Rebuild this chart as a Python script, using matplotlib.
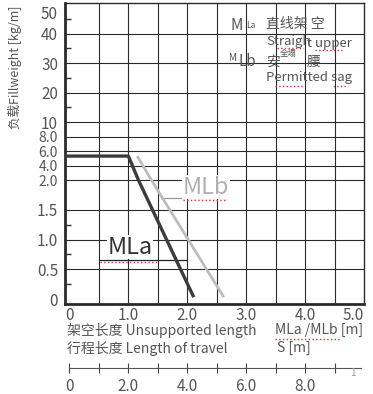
import numpy as np
import matplotlib
matplotlib.use("Agg")
import matplotlib.pyplot as plt
import matplotlib.transforms as mtransforms

plt.rcParams['font.family'] = ['Noto Sans CJK SC', 'DejaVu Sans']
plt.rcParams['font.weight'] = 'light'

# curves: unsupported length [m] vs fill weight [kg/m]
mla_x = [-0.076, 1.0, 1.17, 2.11]
mla_y = [5.3, 5.3, 2.0, 0.03]
mlb_x = [1.15, 1.39, 2.62]
mlb_y = [5.3, 2.0, 0.03]

y_ticks = [0, 0.5, 1.0, 1.5, 2.0, 4.0, 6.0, 8.0, 10, 20, 30, 40, 50]
y_labels = ['0', '0.5', '1.0', '1.5', '2.0', '4.0', '6.0', '8.0', '10', '20', '30', '40', '50']
y_minor = [0.25, 0.75, 1.25, 15, 25, 35, 45]
x_ticks = [0, 1, 2, 3, 4, 5]
x_labels = ['0', '1.0', '2.0', '3.0', '4.0', '5.0']
s_ticks = list(range(10))
s_labels = ['0', '', '2.0', '', '4.0', '', '6.0', '', '8.0', '']

# piecewise-linear value axis of the original sheet
yv = [-1, 0, 2, 10, 50, 100]
yp = [-59.5, 0, 119, 177, 295, 442.5]


def fwd(v):
    return np.interp(v, yv, yp)


def inv(p):
    return np.interp(p, yp, yv)


W, H = 373, 394


def fx(x):
    return x / W


def fy(y):
    return 1 - y / H


fig = plt.figure(figsize=(W / 100, H / 100), dpi=100)
ax = fig.add_axes([fx(65), fy(304), fx(364) - fx(65), fy(3) - fy(304)])
ax.set_yscale('function', functions=(fwd, inv))
ax.set_xlim(-0.076, 5.0)
ax.set_ylim(-0.084, 50.34)

grid_c = '#2a2a2a'
for v in [0.5, 1.0, 1.5, 2.0, 4.0, 6.0, 8.0, 10, 20, 30, 40]:
    ax.axhline(v, color=grid_c, lw=0.8, zorder=1)
for v in np.arange(0.5, 5.0, 0.5):
    ax.axvline(v, color=grid_c, lw=0.8, zorder=1)

ax.plot(mla_x, mla_y, color='#3c3c3c', lw=2.4, zorder=3, solid_capstyle='butt')
ax.plot(mlb_x, mlb_y, color='#bdbdbd', lw=2.0, zorder=3, solid_capstyle='butt')

# labels on the curves with their leader lines
ax.plot([0.52, 1.98], [0.655, 0.655], color='#222', lw=0.9, zorder=2)
ax.plot([1.56, 2.68], [1.70, 1.70], color='#999', lw=0.9, zorder=2)
ax.text(1.03, 0.87, 'MLa', fontsize=17, color='#333', ha='center', va='center',
        zorder=4, bbox=dict(facecolor='white', edgecolor='none', pad=0.5))
ax.text(2.32, 1.88, 'MLb', fontsize=17, color='#b0b0b0', ha='center', va='center',
        zorder=4, bbox=dict(facecolor='white', edgecolor='none', pad=0.5))
ax.plot([0.52, 1.48], [0.62, 0.62], color='#d33', lw=1.0, ls=':', zorder=4)
ax.plot([1.92, 2.68], [1.66, 1.66], color='#d33', lw=1.0, ls=':', zorder=4)

for side, w in [('left', 2.0), ('bottom', 2.0), ('top', 1.0), ('right', 1.0)]:
    ax.spines[side].set_linewidth(w)
    ax.spines[side].set_color('#2a2a2a')

ax.set_yticks(y_ticks)
ax.set_yticklabels(y_labels)
ax.set_yticks(y_minor, minor=True)
ax.set_xticks(x_ticks)
ax.set_xticklabels(x_labels)
ax.tick_params(axis='both', which='major', length=0, colors='#555', labelsize=11)
ax.tick_params(axis='y', which='major', pad=5)
ax.tick_params(axis='x', which='major', pad=2)
ax.tick_params(axis='y', which='minor', direction='in', length=4, width=1, color='#333')
for lab in ax.get_yticklabels():
    if lab.get_text() in ('2.0', '4.0', '6.0', '8.0'):
        lab.set_fontsize(10)
top_lab = ax.get_yticklabels()[-1]
top_lab.set_transform(top_lab.get_transform() +
                      mtransforms.ScaledTranslation(0, -8 / 100, fig.dpi_scale_trans))
ax.get_xticklabels()[-1].set_horizontalalignment('right')

# travel-length scale underneath
ax2 = fig.add_axes([fx(65), fy(368), fx(364) - fx(65), 0.001])
ax2.set_xlim(-0.152, 10.0)
for side in ['left', 'right', 'top']:
    ax2.spines[side].set_visible(False)
ax2.spines['bottom'].set_bounds(0, 9.9)
ax2.spines['bottom'].set_color('#555')
ax2.set_yticks([])
ax2.set_xticks(s_ticks)
ax2.set_xticklabels(s_labels)
ax2.tick_params(axis='x', direction='inout', length=7, color='#444', colors='#555',
                labelsize=11, pad=4)
ax2.text(9.62, -0.5, '1', fontsize=7, color='#999', ha='center', va='top',
         transform=ax2.get_xaxis_transform())

txt = '#555'
fig.text(fx(15), fy(67), '负载Fillweight [kg/m]', rotation=90, ha='center', va='center',
         fontsize=9, color=txt)
fig.text(fx(67), fy(330), '架空长度 Unsupported length', ha='left', va='center',
         fontsize=10, color=txt)
fig.text(fx(275), fy(330), 'MLa /MLb [m]', ha='left', va='center', fontsize=10, color=txt)
fig.text(fx(67), fy(348), '行程长度 Length of travel', ha='left', va='center',
         fontsize=10, color=txt)
fig.text(fx(277), fy(348), 'S [m]', ha='left', va='center', fontsize=10, color=txt)

# key in the upper right
fig.text(fx(230), fy(25), 'M', fontsize=11, color=txt, va='center')
fig.text(fx(246), fy(25), 'La', fontsize=6, color=txt, va='center')
fig.text(fx(266), fy(24), '直线架 空', fontsize=10, color=txt, va='center')
fig.text(fx(266), fy(41), 'Straigh', fontsize=9.5, color=txt, va='center')
fig.text(fx(307), fy(44), 't upper', fontsize=9.5, color=txt, va='center')
fig.text(fx(280), fy(53), '全塌', fontsize=6, color=txt, va='center')
fig.text(fx(229), fy(58), 'M', fontsize=7, color=txt, va='center')
fig.text(fx(239), fy(61), 'Lb', fontsize=11, color=txt, va='center')
fig.text(fx(266), fy(62), '安', fontsize=10, color=txt, va='center')
fig.text(fx(307), fy(62), '腰', fontsize=10, color=txt, va='center')
fig.text(fx(266), fy(77), 'Permitted sag', fontsize=9.5, color=txt, va='center')

# spell-check squiggles of the source document
for x0, x1, y in [(277, 303, 48), (315, 342, 50), (275, 303, 86), (333, 348, 86),
                  (275, 310, 339), (312, 340, 339)]:
    fig.add_artist(plt.Line2D([fx(x0), fx(x1)], [fy(y), fy(y)], color='#d33',
                              lw=1.0, ls=':', transform=fig.transFigure))

fig.savefig('out.png', dpi=100)
